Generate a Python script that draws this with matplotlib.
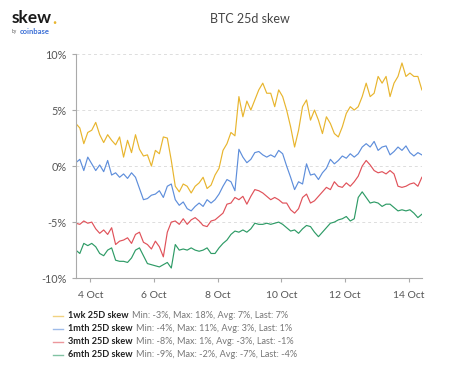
import pandas as pd
import numpy as np
import matplotlib
matplotlib.use('Agg')
import matplotlib.pyplot as plt
import matplotlib.dates as mdates
from matplotlib.ticker import FuncFormatter
from matplotlib.offsetbox import (AnchoredOffsetbox, DrawingArea, HPacker,
                                  TextArea, VPacker)
from matplotlib.lines import Line2D
from matplotlib.text import Annotation

plt.rcParams['font.family'] = ['Lato', 'DejaVu Sans']

# 3-hourly samples
times = pd.date_range('2020-10-03 13:00', periods=88, freq='3h')

wk1 = [3.8, 3.4, 2.0, 3.0, 3.2, 3.9, 2.8, 2.1, 2.8, 2.3, 1.9, 2.6, 0.8, 2.3, 1.2, 2.8,
       1.5, 0.9, 1.0, 0.0, 1.4, 1.1, 2.6, 2.5, 0.5, -1.8, -2.3, -1.6, -1.8, -2.4, -1.8, -1.5,
       -1.0, -2.0, -1.7, -0.8, -0.2, 1.4, 2.0, 3.0, 2.7, 6.2, 4.4, 5.8, 5.0, 5.9, 6.8, 7.4,
       6.5, 6.5, 5.3, 6.8, 6.2, 5.0, 3.5, 1.7, 3.2, 5.3, 5.9, 4.1, 5.0, 4.1, 2.9, 4.4,
       3.8, 2.9, 2.6, 3.5, 4.7, 5.3, 5.0, 5.3, 6.2, 7.4, 6.2, 6.5, 8.0, 7.4, 8.0, 6.2,
       7.4, 8.0, 9.2, 8.0, 8.3, 8.0, 8.0, 6.8]
mth1 = [0.3, 0.6, -0.4, 0.8, 0.2, -0.4, 0.1, -0.5, 0.5, -0.8, -0.6, -1.0, -0.7, -1.1, -0.6, -1.0,
        -2.0, -3.0, -2.9, -2.6, -2.5, -2.2, -2.8, -1.8, -1.6, -3.0, -3.5, -3.2, -3.8, -4.0, -3.6, -3.3,
        -3.6, -3.0, -3.3, -3.0, -2.5, -1.8, -1.2, -1.4, -2.2, 1.5, 0.8, 0.3, 0.6, 1.2, 1.3, 1.0,
        0.8, 1.0, 0.8, 1.4, 1.1, 0.0, -1.0, -2.1, -1.4, -1.6, 0.2, -0.8, -0.7, -1.2, -0.6, -0.2,
        0.6, 0.2, 0.5, 0.9, 0.7, 1.1, 0.8, 1.1, 1.7, 2.0, 1.7, 2.2, 1.4, 1.7, 1.8, 1.0,
        1.3, 1.7, 1.4, 1.8, 1.2, 0.9, 1.2, 1.0]
mth3 = [-5.1, -5.2, -4.9, -5.1, -5.0, -5.6, -6.0, -5.7, -6.1, -5.5, -7.0, -6.7, -6.6, -6.4, -6.9, -6.1,
        -5.9, -6.8, -7.0, -7.4, -6.7, -7.2, -8.1, -5.9, -5.0, -4.9, -5.2, -4.7, -5.2, -4.8, -4.6, -4.9,
        -5.3, -5.4, -4.9, -4.8, -4.5, -4.2, -3.4, -3.3, -2.8, -3.0, -2.7, -3.4, -2.7, -2.1, -2.2, -2.4,
        -2.7, -3.0, -2.8, -3.0, -3.3, -3.3, -3.9, -4.2, -3.8, -2.8, -2.5, -3.3, -3.1, -2.7, -2.3, -1.9,
        -2.1, -1.4, -1.8, -1.9, -1.5, -1.8, -1.4, -0.9, 0.0, 0.5, 0.1, -0.4, -0.6, -0.5, -0.7, -0.4,
        -0.7, -1.8, -1.9, -1.8, -1.6, -1.5, -1.8, -1.0]
mth6 = [-7.5, -7.8, -6.9, -7.1, -6.9, -7.2, -7.8, -8.0, -7.5, -7.3, -8.4, -8.5, -8.5, -8.6, -8.2, -7.5,
        -7.3, -8.0, -8.7, -8.8, -8.9, -9.0, -8.8, -8.6, -9.1, -7.0, -7.5, -7.4, -7.5, -7.3, -7.5, -7.6,
        -7.5, -7.3, -7.8, -7.8, -7.3, -6.9, -6.6, -6.1, -5.8, -5.9, -5.7, -5.9, -5.6, -5.1, -5.2, -5.2,
        -5.1, -5.2, -5.1, -5.0, -5.2, -5.5, -5.8, -5.7, -6.0, -5.6, -5.3, -5.4, -5.9, -6.3, -5.9, -5.5,
        -5.1, -5.0, -4.8, -4.7, -4.5, -4.9, -4.7, -2.8, -2.3, -2.8, -3.3, -3.2, -3.3, -3.6, -3.4, -3.4,
        -3.7, -4.0, -3.9, -4.0, -3.9, -4.2, -4.6, -4.3]

names = ['1wk 25D skew', '1mth 25D skew', '3mth 25D skew', '6mth 25D skew']
stats = ['Min: -3%, Max: 18%, Avg: 7%, Last: 7%',
         'Min: -4%, Max: 11%, Avg: 3%, Last: 1%',
         'Min: -8%, Max: 1%, Avg: -3%, Last: -1%',
         'Min: -9%, Max: -2%, Avg: -7%, Last: -4%']
colors = ['#E8B52E', '#5E8EDB', '#E0525A', '#2E9B66']

fig = plt.figure(figsize=(4.74, 3.65), dpi=100)
ax = fig.add_axes([0.160, 0.238, 0.730, 0.614])

for s, c in zip([wk1, mth1, mth3, mth6], colors):
    ax.plot(times, s, color=c, lw=0.85)

ax.set_ylim(-10, 10)
ax.set_yticks([-10, -5, 0, 5, 10])
ax.yaxis.set_major_formatter(FuncFormatter(lambda v, p: f"{int(v)}%"))
ax.set_xlim(times[0], times[-1])
ax.xaxis.set_major_locator(mdates.DayLocator(bymonthday=[4, 6, 8, 10, 12, 14]))
ax.xaxis.set_major_formatter(FuncFormatter(lambda v, p: f"{mdates.num2date(v).day} Oct"))

for y in [-5, 0, 5, 10]:
    ax.axhline(y, color='#dddddd', lw=0.7, ls=(0, (3, 3)), zorder=0)

for sp in ['top', 'right']:
    ax.spines[sp].set_visible(False)
ax.spines['left'].set_color('#aaaaaa')
ax.spines['bottom'].set_color('#aaaaaa')
ax.tick_params(axis='both', colors='#aaaaaa', labelcolor='#555555', labelsize=7.8, length=3, width=0.8)
ax.tick_params(axis='x', pad=6, labelsize=7.5)

fig.text(0.527, 0.948, 'BTC 25d skew', ha='center', va='center', fontsize=9, color='#444444')

# logo
logo = fig.text(0.025, 0.952, 'skew', fontsize=12.5, fontweight='bold', color='#1a1a1a', va='center')
fig.add_artist(Annotation('.', xy=(1, 0.1), xycoords=logo, fontsize=12.5, fontweight='bold',
                          color='#E8B52E', va='baseline', ha='left'))
fig.text(0.025, 0.915, 'by', fontsize=3.5, color='#555555', va='center')
fig.text(0.042, 0.915, 'coinbase', fontsize=5.5, fontweight='bold', color='#3b6fd6', va='center')

# legend rows
rows = []
for n, st, c in zip(names, stats, colors):
    da = DrawingArea(8, 6)
    da.add_artist(Line2D([0, 7], [3, 3], color=c, lw=1.0, alpha=0.6))
    t1 = TextArea(n, textprops=dict(fontsize=6.6, fontweight='bold', color='#222222'))
    t2 = TextArea(st, textprops=dict(fontsize=6.6, color='#777777'))
    rows.append(HPacker(children=[da, t1, t2], align='center', pad=0, sep=2.5))
box = VPacker(children=rows, align='left', pad=0, sep=2.8)
anch = AnchoredOffsetbox(loc='upper left', child=box, frameon=False,
                         bbox_to_anchor=(0.112, 0.147), bbox_transform=fig.transFigure,
                         borderpad=0, pad=0)
fig.add_artist(anch)

fig.savefig('out.png', dpi=100)
